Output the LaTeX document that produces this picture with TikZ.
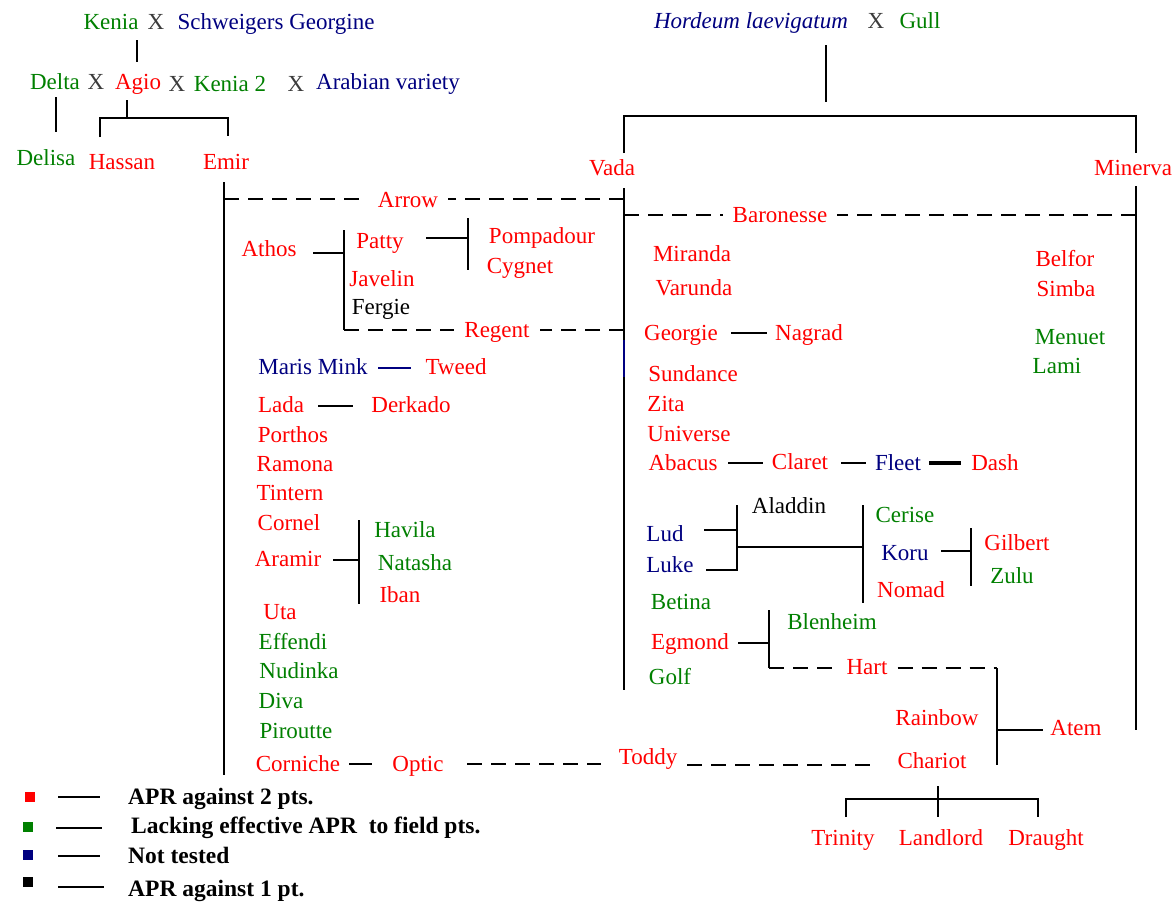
\documentclass[tikz,border=0pt]{standalone}
\usepackage{fontspec}
\setmainfont{Liberation Serif}
\definecolor{cR}{RGB}{255,0,0}
\definecolor{cG}{RGB}{0,128,0}
\definecolor{cB}{RGB}{0,0,128}
\definecolor{cX}{RGB}{60,60,60}
\begin{document}
\begin{tikzpicture}[x=1pt,y=-1pt,
 t/.style={inner sep=0pt, anchor=mid, yshift=-5pt, font=\fontsize{23}{26}\selectfont},
 r/.style={t,text=cR}, g/.style={t,text=cG}, b/.style={t,text=cB}, k/.style={t,text=black}, xx/.style={t,text=cX},
 onl/.style={inner xsep=10pt},
 ln/.style={line width=2.6pt, black},
 bln/.style={line width=2.6pt, cB},
 dl/.style={ln, dash pattern=on 15pt off 9pt},
 leg/.style={inner sep=0pt, anchor=mid west, yshift=-5pt, font=\fontsize{23.5}{26}\selectfont\bfseries},
 sq/.style={inner sep=0pt, minimum size=10pt}]
\useasboundingbox (0,0) rectangle (1173,903);
\fill[white] (0,0) rectangle (1173,903);
% ---------- top left ----------
\node[g] (kenia) at (111,22) {Kenia};
\node[xx] (x1) at (156,22) {X};
\node[b] (schw) at (276,22) {Schweigers Georgine};
\node[g] (delta) at (55,82) {Delta};
\node[xx] (x2) at (96,82) {X};
\node[r] (agio) at (138,82) {Agio};
\node[xx] (x3) at (177,84) {X};
\node[g] (kenia2) at (230,84) {Kenia 2};
\node[xx] (x4) at (296,84) {X};
\node[b] (arab) at (388,82) {Arabian variety};
\node[g] (delisa) at (46,158) {Delisa};
\node[r] (hassan) at (122,162) {Hassan};
\node[r] (emir) at (226,162) {Emir};
\coordinate (kA) at (137,40); \coordinate (kB) at (137,62);
\draw[ln] (kA) -- (kB);
\coordinate (dA) at (56,97); \coordinate (dB) at (56,132);
\draw[ln] (dA) -- (dB);
\coordinate (aA) at (127,100); \coordinate (aJ) at (127,118);
\coordinate (hsA) at (100,137); \coordinate (eA) at (228,136);
\draw[ln] (aA) -- (aJ);
\draw[ln] (hsA) -- (100,118) -- (228,118) -- (eA);
% ---------- top right ----------
\node[b,font=\fontsize{23}{26}\selectfont\itshape] (hord) at (751,21) {Hordeum laevigatum};
\node[xx] (x5) at (876,21) {X};
\node[g] (gull) at (920,21) {Gull};
\node[r] (vada) at (612,168) {Vada};
\node[r] (minerva) at (1133,168) {Minerva};
\coordinate (hoA) at (826,45); \coordinate (hoB) at (826,102);
\draw[ln] (hoA) -- (hoB);
\coordinate (vT) at (624,153); \coordinate (mT) at (1136,153);
\draw[ln] (vT) -- (624,116) -- (1136,116) -- (mT);
% ---------- main verticals ----------
\coordinate (emT) at (224,182); \coordinate (emB) at (224,775);
\draw[ln] (emT) -- (emB);
\coordinate (vaT) at (624,188); \coordinate (vaB1) at (624,340);
\coordinate (vaB2) at (624,377); \coordinate (vaB) at (624,690);
\draw[ln] (vaT) -- (vaB1);
\draw[bln] (vaB1) -- (vaB2);
\draw[ln] (vaB2) -- (vaB);
\coordinate (miT) at (1136,186); \coordinate (miB) at (1136,730);
\draw[ln] (miT) -- (miB);
% Arrow / Baronesse
\node[r,onl] (arrow) at (408,200) {Arrow};
\coordinate (arL) at (224,199); \coordinate (arR) at (624,199);
\draw[dl] (arL) -- (arrow.west |- arL);
\draw[dl] (arR) -- (arrow.east |- arR);
\node[r,onl] (baron) at (780,215) {Baronesse};
\coordinate (baL) at (624,215); \coordinate (baR) at (1136,215);
\draw[dl] (baL) -- (baron.west |- baL);
\draw[dl] (baR) -- (baron.east |- baR);
% ---------- left block ----------
\node[r] (athos) at (269,249) {Athos};
\node[r] (patty) at (380,241) {Patty};
\node[r] (javelin) at (382,279) {Javelin};
\node[k] (fergie) at (381,307) {Fergie};
\node[r] (pomp) at (542,236) {Pompadour};
\node[r] (cygnet) at (520,266) {Cygnet};
\node[r,onl] (regent) at (497,330) {Regent};
\coordinate (atA) at (313,253); \coordinate (atJ) at (344,253);
\coordinate (atT) at (344,230); \coordinate (atB) at (344,330);
\draw[ln] (atA) -- (atJ);
\draw[ln] (atT) -- (atB);
\coordinate (reR) at (624,330);
\draw[dl] (atB) -- (regent.west |- atB);
\draw[dl] (reR) -- (regent.east |- reR);
\coordinate (paA) at (426,238); \coordinate (paJ) at (468,238);
\coordinate (paT) at (468,218); \coordinate (paB) at (468,270);
\draw[ln] (paA) -- (paJ);
\draw[ln] (paT) -- (paB);
\node[b] (maris) at (313,367) {Maris Mink};
\node[r] (tweed) at (456,367) {Tweed};
\coordinate (mmA) at (378,368); \coordinate (mmB) at (411,368);
\draw[bln] (mmA) -- (mmB);
\node[r] (lada) at (281,405) {Lada};
\node[r] (derkado) at (411,405) {Derkado};
\coordinate (laA) at (318,406); \coordinate (laB) at (353,406);
\draw[ln] (laA) -- (laB);
\node[r] (porthos) at (293,435) {Porthos};
\node[r] (ramona) at (295,464) {Ramona};
\node[r] (tintern) at (290,493) {Tintern};
\node[r] (cornel) at (289,523) {Cornel};
\node[r] (aramir) at (288,559) {Aramir};
\node[g] (havila) at (405,530) {Havila};
\node[g] (natasha) at (415,563) {Natasha};
\node[r] (iban) at (400,595) {Iban};
\coordinate (amA) at (333,560); \coordinate (amJ) at (359,560);
\coordinate (amT) at (359,520); \coordinate (amB) at (359,604);
\draw[ln] (amA) -- (amJ);
\draw[ln] (amT) -- (amB);
\node[r] (uta) at (280,612) {Uta};
\node[g] (effendi) at (293,642) {Effendi};
\node[g] (nudinka) at (299,671) {Nudinka};
\node[g] (diva) at (281,701) {Diva};
\node[g] (piroutte) at (296,731) {Piroutte};
\node[r] (corniche) at (298,764) {Corniche};
\node[r] (optic) at (418,764) {Optic};
\node[r] (toddy) at (648,757) {Toddy};
\node[r] (chariot) at (932,761) {Chariot};
\coordinate (coA) at (349,764); \coordinate (coB) at (372,764);
\draw[ln] (coA) -- (coB);
\coordinate (opA) at (467,764); \coordinate (opB) at (601,764);
\draw[dl] (opA) -- (opB);
\coordinate (toA) at (687,765); \coordinate (toB) at (876,765);
\draw[dl] (toA) -- (toB);
% ---------- right block ----------
\node[r] (miranda) at (692,254) {Miranda};
\node[r] (varunda) at (694,288) {Varunda};
\node[r] (georgie) at (681,333) {Georgie};
\node[r] (nagrad) at (809,333) {Nagrad};
\coordinate (geA) at (731,333); \coordinate (geB) at (767,333);
\draw[ln] (geA) -- (geB);
\node[r] (sundance) at (693,374) {Sundance};
\node[r] (zita) at (666,404) {Zita};
\node[r] (universe) at (689,434) {Universe};
\node[r] (abacus) at (683,463) {Abacus};
\node[r] (claret) at (800,462) {Claret};
\node[b] (fleet) at (898,463) {Fleet};
\node[r] (dash) at (995,463) {Dash};
\coordinate (abA) at (728,463); \coordinate (abB) at (763,463);
\coordinate (clA) at (841,463); \coordinate (clB) at (866,463);
\coordinate (flA) at (929,463); \coordinate (flB) at (961,463);
\draw[ln] (abA) -- (abB);
\draw[ln] (clA) -- (clB);
\draw[ln,line width=3.4pt] (flA) -- (flB);
\node[r] (belfor) at (1065,259) {Belfor};
\node[r] (simba) at (1066,289) {Simba};
\node[g] (menuet) at (1070,337) {Menuet};
\node[g] (lami) at (1057,366) {Lami};
\node[k] (aladdin) at (789,506) {Aladdin};
\node[b] (lud) at (665,534) {Lud};
\node[b] (luke) at (670,565) {Luke};
\coordinate (luA) at (704,530); \coordinate (luJ) at (737,530);
\coordinate (lkA) at (706,570); \coordinate (lkJ) at (737,570);
\coordinate (lT) at (737,505); \coordinate (lM) at (737,547);
\coordinate (cM) at (863,547); \coordinate (cTop) at (863,505); \coordinate (cBot) at (863,603);
\draw[ln] (luA) -- (luJ);
\draw[ln] (lkA) -- (lkJ) -- (lT);
\draw[ln] (lM) -- (cM);
\draw[ln] (cTop) -- (cBot);
\node[g] (cerise) at (905,515) {Cerise};
\node[b] (koru) at (905,553) {Koru};
\node[r] (nomad) at (911,590) {Nomad};
\node[r] (gilbert) at (1017,543) {Gilbert};
\node[g] (zulu) at (1012,576) {Zulu};
\coordinate (koA) at (941,551); \coordinate (koJ) at (971,551);
\coordinate (koT) at (971,528); \coordinate (koB) at (971,586);
\draw[ln] (koA) -- (koJ);
\draw[ln] (koT) -- (koB);
\node[g] (betina) at (681,602) {Betina};
\node[r] (egmond) at (690,642) {Egmond};
\node[g] (golf) at (670,677) {Golf};
\node[g] (blenheim) at (832,622) {Blenheim};
\node[r,onl] (hart) at (867,667) {Hart};
\coordinate (egA) at (738,643); \coordinate (egJ) at (769,643);
\coordinate (egT) at (769,610); \coordinate (egB) at (769,668);
\draw[ln] (egA) -- (egJ);
\draw[ln] (egT) -- (egB);
\coordinate (haR) at (997,668); \coordinate (haB) at (997,765);
\draw[dl] (egB) -- (hart.west |- egB);
\draw[ln] (haR) -- (haB);
\draw[dl] (hart.east |- haR) -- (haR);
\node[r] (rainbow) at (937,718) {Rainbow};
\node[r] (atem) at (1076,728) {Atem};
\coordinate (atemA) at (997,730); \coordinate (atemB) at (1043,730);
\draw[ln] (atemA) -- (atemB);
\node[r] (trinity) at (843,838) {Trinity};
\node[r] (landlord) at (941,838) {Landlord};
\node[r] (draught) at (1046,838) {Draught};
\coordinate (chT) at (938,786); \coordinate (chB) at (938,817);
\coordinate (trB) at (846,817); \coordinate (drB) at (1038,817);
\draw[ln] (chT) -- (chB);
\draw[ln] (trB) -- (846,799) -- (1038,799) -- (drB);
% ---------- legend ----------
\node[sq,fill=cR] (s1) at (30,797) {};
\node[sq,fill=cG] (s2) at (28,827) {};
\node[sq,fill=cB] (s3) at (28,855) {};
\node[sq,fill=black] (s4) at (28,882) {};
\coordinate (l1a) at (58,797); \coordinate (l1b) at (100,797);
\coordinate (l2a) at (56,828); \coordinate (l2b) at (102,828);
\coordinate (l3a) at (58,856); \coordinate (l3b) at (100,856);
\coordinate (l4a) at (58,887); \coordinate (l4b) at (104,887);
\draw[ln,line width=2.4pt] (l1a) -- (l1b);
\draw[ln,line width=2.4pt] (l2a) -- (l2b);
\draw[ln,line width=2.4pt] (l3a) -- (l3b);
\draw[ln,line width=2.4pt] (l4a) -- (l4b);
\node[leg] (t1) at (128,797) {APR against 2 pts.};
\node[leg] (t2) at (131,826) {Lacking effective APR\ \ to field pts.};
\node[leg] (t3) at (128,856) {Not tested};
\node[leg] (t4) at (128,889) {APR against 1 pt.};
\end{tikzpicture}
\end{document}
